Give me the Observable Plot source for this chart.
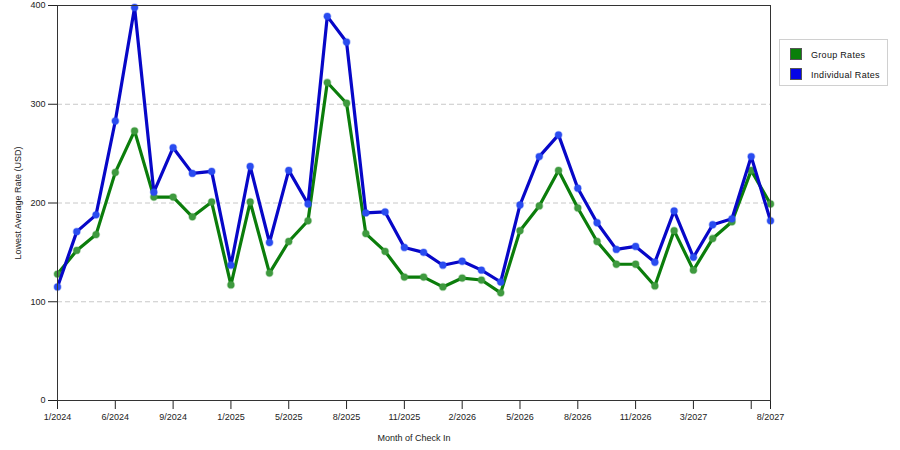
<!DOCTYPE html>
<html><head><meta charset="utf-8">
<script src="https://cdn.jsdelivr.net/npm/d3@7"></script>
<script src="https://cdn.jsdelivr.net/npm/@observablehq/plot@0.6"></script>
<style>
body{margin:0;background:#fff;}
#wrap{position:relative;width:900px;height:450px;font-family:"Liberation Sans",Arial,sans-serif;}
#legend{position:absolute;left:779px;top:39px;width:109px;height:47px;border:1px solid #d0d0d0;box-sizing:border-box;background:#fff;}
.item{position:absolute;left:10px;height:12px;font-size:9px;color:#111;line-height:12px;}
.sw{position:absolute;left:0;top:0;width:12px;height:12px;border:1px solid #555;box-sizing:border-box;}
.lab{position:absolute;left:21px;top:1px;white-space:nowrap;letter-spacing:0.3px;}
</style></head><body>
<div id="wrap"><div id="chart"></div><div id="legend"></div></div>
<script>
const months = ["1/2024","3/2024","4/2024","6/2024","7/2024","8/2024","9/2024","10/2024","11/2024",
  "1/2025","2/2025","4/2025","5/2025","6/2025","7/2025","8/2025","9/2025","10/2025","11/2025","12/2025",
  "1/2026","2/2026","3/2026","4/2026","5/2026","6/2026","7/2026","8/2026","9/2026","10/2026","11/2026",
  "1/2027","2/2027","3/2027","4/2027","5/2027","7/2027","8/2027"];
const groupRates = [128,152,168,231,273,206,206,186,201,117,201,129,161,182,322,301,169,151,125,125,115,124,122,109,172,197,233,195,161,138,138,116,172,132,164,181,233,199];
const individualRates = [115,171,188,283,398,211,256,230,232,137,237,160,233,199,389,363,190,191,155,150,137,141,132,120,198,247,269,215,180,153,156,140,192,145,178,184,247,182];
const tickMonths = ["1/2024","6/2024","9/2024","1/2025","5/2025","8/2025","11/2025","2/2026","5/2026","8/2026","11/2026","3/2027","7/2027","8/2027"];
const hiddenTickLabels = ["7/2027"];
const yTicks = [0,100,200,300,400];
const gridTicks = [100,200,300];
const seriesNames = ["Group Rates","Individual Rates"];
const lineColors = ["#0b7d0b","#0707c8"];
const dotColors = ["#3f9a3f","#2a4cf0"];
const swatchColors = ["#0a7f0a","#0505e6"];

const series = [groupRates, individualRates].map(vals => months.map((m,i)=>({month:m, value:vals[i]})));

const marks = [
  Plot.gridY(gridTicks, {stroke:"#c8c8c8", strokeOpacity:1, strokeDasharray:"5,3"}),
];
series.forEach((d,k)=>{
  marks.push(Plot.line(d, {x:"month", y:"value", stroke:lineColors[k], strokeWidth:3.2, strokeLinejoin:"round"}));
  marks.push(Plot.dot(d, {x:"month", y:"value", r:3.4, fill:dotColors[k], stroke:dotColors[k], strokeOpacity:0.35, strokeWidth:1.6}));
});
marks.push(
  Plot.axisX({ticks:tickMonths, tickFormat:d=>hiddenTickLabels.includes(d)?"":d, tickSize:9, tickPadding:4, stroke:"#222",
    label:"Month of Check In", labelAnchor:"center", labelArrow:"none", labelOffset:40}),
  Plot.axisY({ticks:yTicks, tickSize:9, tickPadding:3, stroke:"#222",
    label:"Lowest Average Rate (USD)", labelAnchor:"center", labelArrow:"none", labelOffset:43}),
  Plot.frame({stroke:"#333"})
);

const chart = Plot.plot({
  width:900, height:450,
  marginLeft:57, marginRight:130, marginTop:5, marginBottom:50,
  style:{fontSize:"9px", fontFamily:"'Liberation Sans',Arial,sans-serif", color:"#222", background:"#fff"},
  x:{type:"point", domain:months, padding:0, round:false},
  y:{domain:[0,400]},
  marks
});
document.getElementById("chart").appendChild(chart);

const leg = document.getElementById("legend");
seriesNames.forEach((n,k)=>{
  const it = document.createElement("div");
  it.className="item"; it.style.top=(8+20*k)+"px";
  it.innerHTML=`<div class="sw" style="background:${swatchColors[k]}"></div><div class="lab">${n}</div>`;
  leg.appendChild(it);
});
</script>
</body></html>
